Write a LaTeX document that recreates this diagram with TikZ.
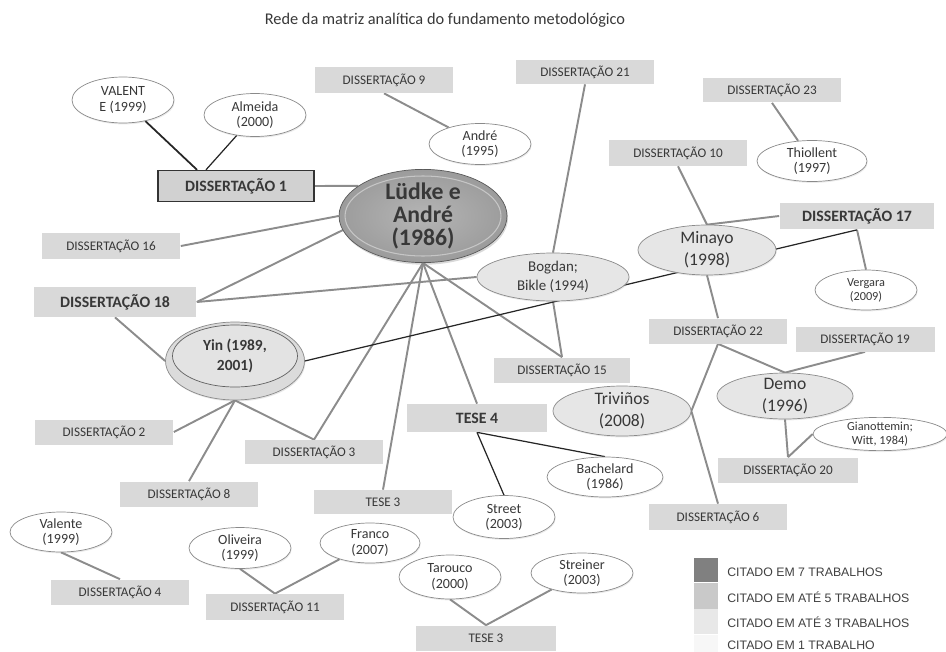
\documentclass[tikz,border=0pt]{standalone}
\usepackage{fontspec}
\setmainfont{Carlito}
\newfontfamily\legfont{Liberation Sans}
\usepackage{tikz}
\usetikzlibrary{shapes.geometric,shadows,positioning}
\pgfdeclarelayer{bg}
\pgfsetlayers{bg,main}
\definecolor{boxgray}{HTML}{D9D9D9}
\definecolor{linegray}{HTML}{8C8C8C}
\definecolor{txtgray}{HTML}{383838}
\definecolor{rimgray}{HTML}{8A8A8A}
\definecolor{midgray}{HTML}{E6E6E6}

\tikzset{
  box/.style={rectangle, fill=boxgray, text=txtgray, inner sep=0pt,
    minimum width=2.78cm, minimum height=0.5cm,
    font=\fontsize{7.5}{9}\selectfont},
  bbox/.style={box, font=\fontsize{9}{11}\selectfont\bfseries},
  cite/.style={ellipse, draw=rimgray, fill=white, text=txtgray, inner sep=0pt,
    align=center, minimum width=2.04cm, minimum height=0.82cm,
    font=\fontsize{8}{8.6}\selectfont,
    drop shadow={shadow xshift=0.4pt, shadow yshift=-0.8pt, opacity=0.16}},
  mid/.style={cite, fill=midgray, minimum width=2.76cm, minimum height=1cm,
    inner sep=-1pt, font=\fontsize{10}{12.5}\selectfont},
  topwork/.style={ellipse, draw=gray!70!black, inner color=gray!58, outer color=gray!78,
    text=txtgray, align=center, inner sep=0pt, minimum width=3.36cm, minimum height=1.86cm,
    font=\fontsize{13.5}{13}\selectfont\bfseries,
    drop shadow={shadow xshift=0.6pt, shadow yshift=-1.2pt, opacity=0.3}},
  ln/.style={draw=linegray, line width=1.1pt},
  dk/.style={draw=black!85, line width=0.7pt},
  legsq/.style={rectangle, inner sep=0pt, minimum width=0.48cm},
  legtxt/.style={anchor=west, inner sep=0pt, text=black!75,
    font=\legfont\fontsize{7}{8}\selectfont}
}

\begin{document}
\begin{tikzpicture}[x=0.02cm, y=-0.02cm]
  \useasboundingbox (0,0) rectangle (946,652);

  \node[text=txtgray, font=\fontsize{9.3}{11}\selectfont] (title) at (445,20)
    {Rede da matriz analítica do fundamento metodológico};

  % works most cited
  \node[topwork] (ludke) at (423,216) {Lüdke e\\André\\(1986)};
  \draw[draw=gray!45, line width=0.6pt] (ludke.center) ellipse [x radius=1.56cm, y radius=0.8cm];
  \node[ellipse, draw=rimgray, fill=gray!28, minimum width=2.78cm, minimum height=1.56cm,
    drop shadow={shadow xshift=0.5pt, shadow yshift=-0.8pt, opacity=0.2}] (yin) at (235,361) {};
  \node[ellipse, draw=gray!75!black, fill=gray!22, text=txtgray, align=center, inner sep=0pt,
    minimum width=2.5cm, minimum height=1.24cm, font=\fontsize{8.8}{11.3}\selectfont\bfseries]
    (yinin) at (235,356) {Yin (1989,\\2001)};
  \node[mid] (minayo) at (707,250) {Minayo\\(1998)};
  \node[mid, minimum width=3.04cm, minimum height=0.96cm, font=\fontsize{8.5}{10.8}\selectfont]
    (bogdan) at (553,277) {Bogdan;\\Bikle (1994)};
  \node[mid] (trivinos) at (622,411) {Triviños\\(2008)};
  \node[mid, minimum width=2.72cm, minimum height=0.92cm] (demo) at (785,396) {Demo\\(1996)};

  % other works
  \node[cite, minimum height=0.92cm] (valent) at (123,100) {VALENT\\E (1999)};
  \node[cite, minimum height=0.86cm] (almeida) at (255,115) {Almeida\\(2000)};
  \node[cite] (andre) at (480,144) {André\\(1995)};
  \node[cite, minimum width=2.2cm] (thiollent) at (812,161) {Thiollent\\(1997)};
  \node[cite, minimum height=0.8cm, font=\fontsize{7}{8}\selectfont] (vergara) at (866,290) {Vergara\\(2009)};
  \node[cite, minimum width=2.68cm, minimum height=0.6cm, font=\fontsize{7}{7.6}\selectfont]
    (gianot) at (880,434) {Gianottemin;\\Witt, 1984)};
  \node[cite, minimum width=2.32cm, minimum height=0.8cm] (bachelard) at (605,477) {Bachelard\\(1986)};
  \node[cite, minimum height=0.86cm] (street) at (504,517) {Street\\(2003)};
  \node[cite, minimum height=0.88cm] (tarouco) at (450,577) {Tarouco\\(2000)};
  \node[cite, minimum height=0.8cm] (streiner) at (582,573) {Streiner\\(2003)};
  \node[cite, minimum height=0.8cm] (valente) at (61,532) {Valente\\(1999)};
  \node[cite] (oliveira) at (240,548) {Oliveira\\(1999)};
  \node[cite, minimum width=2cm, minimum height=0.8cm] (franco) at (370,543) {Franco\\(2007)};

  % theses and dissertations
  \node[bbox, draw=black!80, line width=0.8pt, fill=gray!36, minimum width=3.12cm, minimum height=0.62cm]
    (diss1) at (236,186) {DISSERTAÇÃO 1};
  \node[box, minimum height=0.52cm] (diss16) at (111,246) {DISSERTAÇÃO 16};
  \node[box, minimum height=0.52cm] (diss9) at (384,80) {DISSERTAÇÃO 9};
  \node[box, minimum height=0.48cm] (diss21) at (585,72) {DISSERTAÇÃO 21};
  \node[box] (diss23) at (772,90) {DISSERTAÇÃO 23};
  \node[box, minimum height=0.52cm] (diss10) at (678,153) {DISSERTAÇÃO 10};
  \node[bbox, minimum width=3.1cm, minimum height=0.54cm] (diss17) at (857,216) {DISSERTAÇÃO 17};
  \node[bbox, minimum width=3.26cm, minimum height=0.6cm] (diss18) at (115,302) {DISSERTAÇÃO 18};
  \node[box] (diss2) at (104,432) {DISSERTAÇÃO 2};
  \node[box, minimum height=0.48cm] (diss3) at (314,452) {DISSERTAÇÃO 3};
  \node[box] (diss8) at (189,494) {DISSERTAÇÃO 8};
  \node[box] (diss4) at (120,592) {DISSERTAÇÃO 4};
  \node[box, minimum height=0.52cm] (diss11) at (275,607) {DISSERTAÇÃO 11};
  \node[box, minimum width=2.74cm] (diss15) at (562,370) {DISSERTAÇÃO 15};
  \node[bbox, minimum width=2.8cm, minimum height=0.56cm] (tese4) at (477,418) {TESE 4};
  \node[box, minimum height=0.48cm] (tese3a) at (383,502) {TESE 3};
  \node[box, minimum width=2.8cm] (tese3b) at (486,638) {TESE 3};
  \node[box, minimum height=0.52cm] (diss6) at (718,517) {DISSERTAÇÃO 6};
  \node[box] (diss22) at (718,331) {DISSERTAÇÃO 22};
  \node[box] (diss19) at (865,339) {DISSERTAÇÃO 19};
  \node[box, minimum width=2.8cm] (diss20) at (788,470) {DISSERTAÇÃO 20};

  % connectors
  \begin{pgfonlayer}{bg}
    \draw[ln] (diss1.east) -- (ludke.155);
    \draw[ln] (diss16.east) -- (ludke.180);
    \draw[ln] (diss18.east) -- (ludke.190);
    \draw[ln] (diss18.east) -- (bogdan.west);
    \draw[ln] (ludke.south) -- (diss3.north);
    \draw[ln] (ludke.south) -- (tese3a.north);
    \draw[ln] (ludke.south) -- (tese4.north);
    \draw[ln] (ludke.south) -- (diss15.north);
    \draw[ln] (bogdan.south) -- (diss15.north);
    \draw[ln] (diss21.south) -- (bogdan.north);
    \draw[ln] (diss9.south) -- (andre);
    \draw[ln] (diss23.south) -- (thiollent);
    \draw[ln] (diss10.south) -- (minayo.north);
    \draw[ln] (minayo.north) -- (diss17.west);
    \draw[ln] (diss17.south) -- (vergara.north);
    \draw[ln] (minayo.south) -- (diss22.north);
    \draw[ln] (diss22.south) -- (demo.north);
    \draw[ln] (diss19.south) -- (demo.north);
    \draw[ln] (diss22.south) -- (trivinos.east) -- (diss6.north);
    \draw[ln] (demo.south) -- (diss20.north);
    \draw[ln] (gianot.west) -- (diss20.north);
    \draw[ln] (diss18.south) -- (yin.west);
    \draw[ln] (diss2.east) -- (yin.south);
    \draw[ln] (yin.south) -- (diss8.north);
    \draw[ln] (yin.south) -- (diss3.north);
    \draw[ln] (valente.south) -- (diss4.north);
    \draw[ln] (oliveira.south) -- (diss11.north);
    \draw[ln] (franco) -- (diss11.north);
    \draw[ln] (tarouco.south) -- (tese3b.north);
    \draw[ln] (streiner) -- (tese3b.north);
    \draw[dk, line width=1pt] (valent) -- ([xshift=-0.78cm]diss1.north);
    \draw[dk] (almeida) -- ([xshift=-0.6cm]diss1.north);
    \draw[dk] (yin.east) -- (diss17.south);
    \draw[dk] (tese4.south) -- (bachelard.north);
    \draw[dk] (tese4.south) -- (street.north);
  \end{pgfonlayer}

  % legend
  \node[legsq, fill=black!50, minimum height=0.48cm] (sq7) at (706,570) {};
  \node[legsq, fill=black!21, minimum height=0.52cm, below=0pt of sq7] (sq5) {};
  \node[legsq, fill=black!9, minimum height=0.5cm, below=0pt of sq5] (sq3) {};
  \node[legsq, fill=black!3, minimum height=0.38cm, below=0pt of sq3] (sq1) {};
  \node[legtxt] (leg7) at (727,572) {CITADO EM 7 TRABALHOS};
  \node[legtxt] (leg5) at (727,597) {CITADO EM ATÉ 5 TRABALHOS};
  \node[legtxt] (leg3) at (727,622) {CITADO EM ATÉ 3 TRABALHOS};
  \node[legtxt] (leg1) at (727,645) {CITADO EM 1 TRABALHO};
\end{tikzpicture}
\end{document}
